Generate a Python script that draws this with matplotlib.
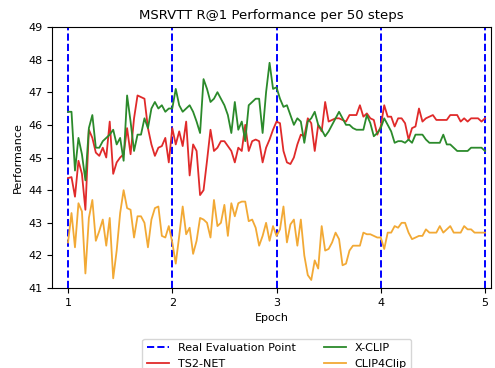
import numpy as np
import matplotlib
matplotlib.use('Agg')
import matplotlib.pyplot as plt


# Evaluation points (epochs) and sampling rate of the curves
epochs = [1, 2, 3, 4, 5]
points_per_epoch = 30

# TS2-NET R@1 per 50 steps
ts2net = [
    44.37, 44.4, 43.8, 44.9, 44.5, 43.4, 45.85, 45.6, 45.15, 45.05,
    45.3, 45.0, 46.1, 44.5, 44.85, 45.0, 45.1, 45.9, 45.1, 46.2,
    46.9, 46.85, 46.8, 45.9, 45.4, 45.05, 45.3, 45.35, 45.6, 44.85,
    45.9, 45.4, 45.8, 45.35, 46.1, 44.45, 45.4, 45.2, 43.85, 44.0,
    44.9, 45.85, 45.2, 45.3, 45.5, 45.5, 45.35, 45.2, 44.85, 45.3,
    45.2, 46.0, 45.2, 45.5, 45.55, 45.5, 44.85, 45.3, 45.55, 45.85,
    46.1, 46.05, 45.2, 44.85, 44.8, 45.0, 45.4, 45.7, 45.65, 46.2,
    46.05, 45.2, 46.0, 45.8, 46.7, 46.1, 46.15, 46.2, 46.2, 46.15,
    46.1, 46.3, 46.3, 46.3, 46.6, 46.25, 46.35, 46.2, 46.15, 45.7,
    45.95, 46.6, 46.25, 46.25, 45.95, 46.2, 46.2, 46.05, 45.55, 45.9,
    45.95, 46.5, 46.1, 46.2, 46.25, 46.3, 46.15, 46.15, 46.15, 46.15,
    46.3, 46.3, 46.3, 46.1, 46.2, 46.1, 46.2, 46.2, 46.2, 46.1,
    46.2,
]

# X-CLIP R@1 per 50 steps
xclip = [
    46.4, 46.4, 44.6, 45.6, 45.1, 44.3, 45.9, 46.3, 45.3, 45.3,
    45.5, 45.6, 45.7, 45.85, 45.4, 45.6, 44.9, 46.9, 46.1, 45.2,
    45.7, 45.7, 46.2, 45.9, 46.5, 46.7, 46.5, 46.6, 46.4, 46.5,
    46.5, 47.1, 46.6, 46.4, 46.5, 46.6, 46.4, 46.1, 45.75, 47.4,
    47.1, 46.7, 46.8, 47.0, 46.8, 46.6, 46.3, 45.75, 46.7, 45.85,
    46.1, 45.5, 46.6, 46.7, 46.8, 46.8, 45.75, 47.0, 47.9, 47.1,
    47.15, 46.8, 46.55, 46.6, 46.3, 46.0, 46.2, 46.1, 45.45, 46.1,
    46.2, 46.4, 46.0, 45.85, 45.65, 45.8, 46.0, 46.2, 46.4, 46.2,
    46.0, 46.0, 45.9, 45.85, 45.85, 45.85, 46.3, 46.05, 45.65, 45.75,
    45.9, 46.2, 46.0, 45.8, 45.45, 45.5, 45.5, 45.45, 45.55, 45.45,
    45.7, 45.7, 45.7, 45.55, 45.45, 45.45, 45.45, 45.45, 45.7, 45.4,
    45.4, 45.3, 45.2, 45.2, 45.2, 45.2, 45.3, 45.3, 45.3, 45.3,
    45.2,
]

# CLIP4Clip R@1 per 50 steps
clip4clip = [
    42.4, 43.3, 42.25, 43.6, 43.35, 41.45, 43.15, 43.7, 42.45, 42.75,
    43.1, 42.3, 43.15, 41.3, 42.15, 43.3, 44.0, 43.45, 43.4, 42.55,
    43.2, 43.2, 43.0, 42.25, 43.1, 43.45, 43.5, 42.6, 42.55, 42.9,
    42.4, 41.75, 42.6, 43.5, 42.65, 42.85, 42.05, 42.45, 43.15, 43.1,
    43.0, 42.55, 43.7, 42.9, 43.0, 43.55, 42.6, 43.6, 43.2, 43.6,
    43.65, 43.65, 43.05, 43.1, 42.85, 42.3, 42.6, 43.0, 42.45, 42.9,
    42.6, 42.8, 43.5, 42.4, 42.95, 43.1, 42.3, 43.1, 42.0, 41.4,
    41.25, 41.85, 41.6, 42.9, 42.15, 42.2, 42.4, 42.7, 42.5, 41.7,
    41.75, 42.15, 42.3, 42.3, 42.3, 42.7, 42.65, 42.65, 42.6, 42.55,
    42.55, 42.2, 42.7, 42.7, 42.9, 42.85, 43.0, 43.0, 42.7, 42.5,
    42.55, 42.6, 42.6, 42.8, 42.7, 42.7, 42.7, 42.9, 42.7, 42.8,
    42.9, 42.7, 42.7, 42.7, 42.9, 42.8, 42.8, 42.7, 42.7, 42.7,
    42.7,
]

steps = 1 + np.arange(len(ts2net)) / points_per_epoch

fig = plt.figure(figsize=(4.95, 3.68), dpi=100)
ax = fig.add_axes([0.105, 0.217, 0.887, 0.71])

# Real evaluation points
for i, e in enumerate(epochs):
    ax.axvline(e, color='blue', linestyle='--', linewidth=1.4,
               label='Real Evaluation Point' if i == 0 else None)

ax.plot(steps, ts2net, color='#e02a2a', linewidth=1.3, label='TS2-NET')
ax.plot(steps, xclip, color='#2b8a2b', linewidth=1.3, label='X-CLIP')
ax.plot(steps, clip4clip, color='#f2a935', linewidth=1.3, label='CLIP4Clip')

ax.set_xlim(0.846, 5.058)
ax.set_ylim(41, 49)
ax.set_xticks(epochs)
ax.set_yticks(range(41, 50))
ax.tick_params(labelsize=8)

ax.set_title('MSRVTT R@1 Performance per 50 steps', fontsize=9.5)
ax.set_xlabel('Epoch', fontsize=8)
ax.set_ylabel('Performance', fontsize=8)

ax.legend(loc='upper center', bbox_to_anchor=(0.512, -0.172), ncol=2,
          fontsize=8, columnspacing=2.5)

fig.savefig('out.png', dpi=100)
